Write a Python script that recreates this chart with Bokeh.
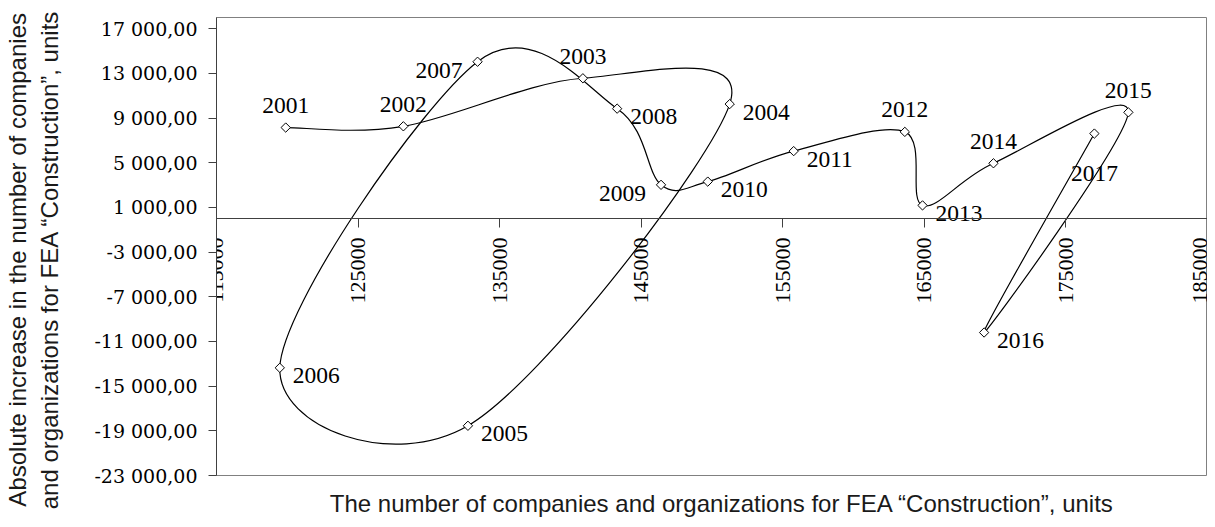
import numpy as np
from math import pi
from bokeh.plotting import figure
from bokeh.models import ColumnDataSource, Range1d, FixedTicker, LinearAxis
from bokeh.core.properties import value
from bokeh.embed import file_html
from bokeh.resources import INLINE

# ---- data ----
years = [2001, 2002, 2003, 2004, 2005, 2006, 2007, 2008, 2009,
         2010, 2011, 2012, 2013, 2014, 2015, 2016, 2017]
companies = [119890, 128200, 140880, 151250, 132760, 119470, 133440, 143300, 146400,
             149700, 155770, 163620, 164870, 169880, 179410, 169220, 177010]
abs_increase = [8150, 8260, 12560, 10250, -18550, -13360, 14040, 9840, 3020,
                3310, 6040, 7760, 1180, 4950, 9510, -10200, 7610]
label_side = ["above", "above", "above", "right", "right", "right", "left", "right", "left",
              "right", "right", "above", "right", "above", "above", "right", "below"]

x_ticks = [115000, 125000, 135000, 145000, 155000, 165000, 175000, 185000]
x_tick_labels = ["115000", "125000", "135000", "145000", "155000", "165000", "175000", "185000"]
y_ticks = [-23000, -19000, -15000, -11000, -7000, -3000, 1000, 5000, 9000, 13000, 17000]
y_tick_labels = ["-23 000,00", "-19 000,00", "-15 000,00", "-11 000,00", "-7 000,00",
                 "-3 000,00", "1 000,00", "5 000,00", "9 000,00", "13 000,00", "17 000,00"]

x_title = "The number of companies and organizations for FEA \u201cConstruction\u201d, units"
y_title = ("Absolute increase in the number of companies\n"
           "and organizations for FEA \u201cConstruction\u201d, units")

NB = "\u00a0"

# ---- figure ----
p = figure(width=1207, height=519, output_backend="svg", toolbar_location=None,
           x_range=Range1d(115000, 185000), y_range=Range1d(-23000, 18000),
           x_axis_location=None, y_axis_location="left",
           min_border_left=215, min_border_right=0, min_border_top=17, min_border_bottom=41)
p.grid.visible = False
p.outline_line_color = "#808080"
p.outline_line_width = 1
p.background_fill_color = "white"
p.border_fill_color = "white"

# y axis
ya = p.yaxis[0]
ya.ticker = FixedTicker(ticks=y_ticks)
ya.major_label_overrides = {t: l for t, l in zip(y_ticks, y_tick_labels)}
ya.major_label_text_font = "DejaVu Serif"
ya.major_label_text_font_size = "19px"
ya.major_label_text_color = "black"
ya.major_label_standoff = 11
ya.major_tick_out = 8
ya.major_tick_in = 0
ya.minor_tick_out = 0
ya.minor_tick_in = 0
ya.axis_line_color = "#404040"
ya.major_tick_line_color = "#404040"
# trailing no-break spaces shift the centred title slightly downwards, as in the reference
ya.axis_label = "\n".join(line + NB * 4 for line in y_title.split("\n"))
ya.axis_label_text_font = "Liberation Sans"
ya.axis_label_text_font_size = "24px"
ya.axis_label_text_font_style = "normal"
ya.axis_label_text_color = "#1a1a1a"
ya.axis_label_standoff = 28

# x axis crossing at y = 0
xa = LinearAxis(fixed_location=0, ticker=FixedTicker(ticks=x_ticks),
                major_label_overrides={t: l for t, l in zip(x_ticks, x_tick_labels)},
                major_label_orientation=pi / 2,
                major_label_text_font="Liberation Serif",
                major_label_text_font_size="22px",
                major_label_text_color="black",
                major_label_standoff=10,
                major_tick_out=9, major_tick_in=0,
                minor_tick_out=0, minor_tick_in=0,
                axis_line_color="#404040", major_tick_line_color="#404040")
p.add_layout(xa, "below")

# x axis title carried by a bare axis at the bottom of the plot area
xt = LinearAxis(ticker=FixedTicker(ticks=[]), axis_line_color=None,
                major_tick_out=0, major_tick_in=0, minor_tick_out=0, minor_tick_in=0,
                major_label_standoff=0,
                axis_label=NB * 3 + x_title,
                axis_label_text_font="Liberation Sans",
                axis_label_text_font_size="24px",
                axis_label_text_font_style="normal",
                axis_label_text_color="#1a1a1a",
                axis_label_standoff=14)
p.add_layout(xt, "below")

# ---- smoothed line (Excel-like cardinal spline, tension 1/6) ----
P = np.column_stack([np.array(companies, float), np.array(abs_increase, float)])
n = len(P)
Pp = np.vstack([P[0], P, P[-1]])
c0 = P[:-1] + (Pp[2:n + 1] - Pp[0:n - 1]) / 6.0
c1 = P[1:] - (Pp[3:n + 2] - Pp[1:n]) / 6.0
seg = ColumnDataSource(dict(x0=P[:-1, 0], y0=P[:-1, 1], x1=P[1:, 0], y1=P[1:, 1],
                            cx0=c0[:, 0], cy0=c0[:, 1], cx1=c1[:, 0], cy1=c1[:, 1]))
p.bezier(x0="x0", y0="y0", x1="x1", y1="y1", cx0="cx0", cy0="cy0", cx1="cx1", cy1="cy1",
         source=seg, line_color="black", line_width=1.2)

# markers (hollow diamonds)
pts = ColumnDataSource(dict(x=companies, y=abs_increase))
p.scatter(x="x", y="y", source=pts, marker="square", angle=pi / 4, size=6.6,
          line_color="black", line_width=1, fill_color="white")

# year labels
side_style = {
    "above": dict(text_align="center", x_offset=0, y_offset=-22),
    "right": dict(text_align="left", x_offset=13, y_offset=8),
    "left": dict(text_align="right", x_offset=-15, y_offset=9),
    "below": dict(text_align="center", x_offset=0, y_offset=40),
}
for side, st in side_style.items():
    idx = [i for i, s in enumerate(label_side) if s == side]
    if not idx:
        continue
    src = ColumnDataSource(dict(x=[companies[i] for i in idx],
                                y=[abs_increase[i] for i in idx],
                                t=[str(years[i]) for i in idx]))
    p.text(x="x", y="y", text="t", source=src,
           text_font=value("Liberation Serif"), text_font_size=value("23.5px"),
           text_color="black", text_baseline="alphabetic", **st)

open("out.html", "w").write(file_html(p, INLINE))
